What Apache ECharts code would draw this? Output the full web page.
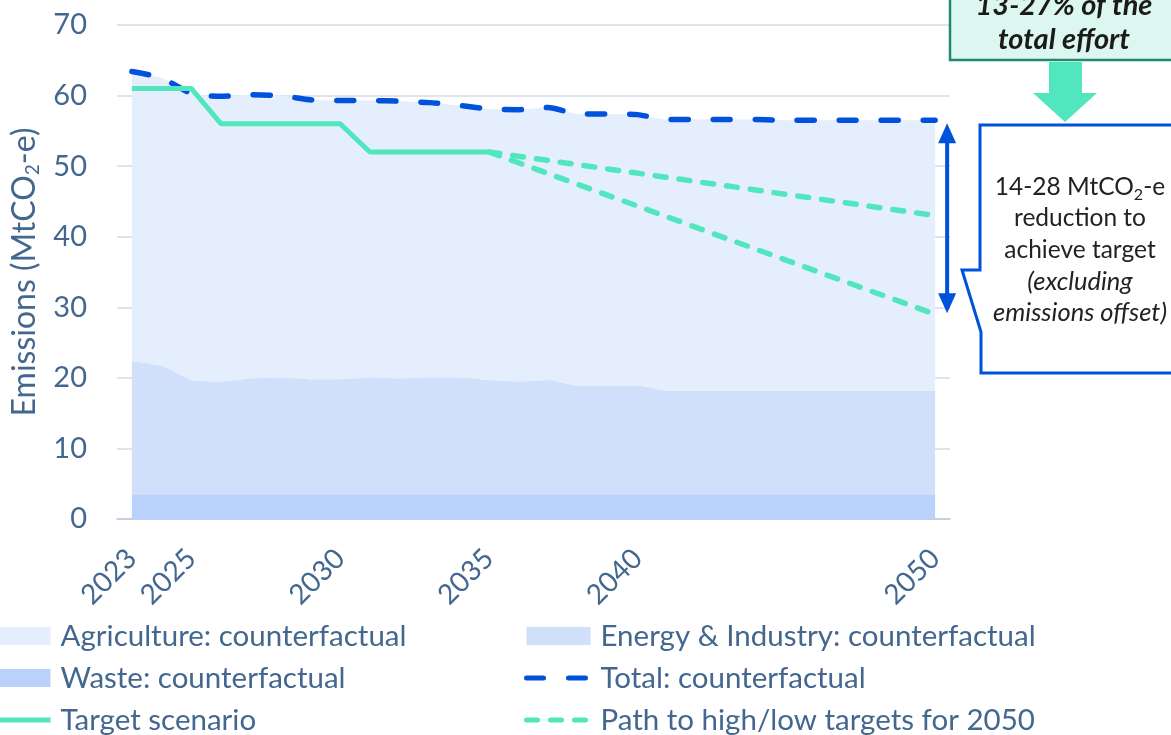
<!DOCTYPE html>
<html>
<head>
<meta charset="utf-8">
<script src="https://cdn.jsdelivr.net/npm/echarts@6/dist/echarts.min.js"></script>
<style>
  html, body { margin: 0; padding: 0; background: #fff; }
  #main { width: 1171px; height: 735px; }
</style>
</head>
<body>
<div id="main"></div>
<script>
// years on the x axis
const years = ['2023', '2024', '2025', '2026', '2027', '2028', '2029', '2030', '2031', '2032',
  '2033', '2034', '2035', '2036', '2037', '2038', '2039', '2040', '2041', '2042',
  '2043', '2044', '2045', '2046', '2047', '2048', '2049', '2050'];
const shownYears = ['2023', '2025', '2030', '2035', '2040', '2050'];

// stacked counterfactual areas (MtCO2-e)
const waste = [3.5, 3.5, 3.5, 3.5, 3.5, 3.5, 3.5, 3.5, 3.5, 3.5,
  3.5, 3.5, 3.5, 3.5, 3.5, 3.5, 3.5, 3.5, 3.5, 3.5,
  3.5, 3.5, 3.5, 3.5, 3.5, 3.5, 3.5, 3.5];
const energy = [18.9, 18.2, 16.2, 16.0, 16.4, 16.5, 16.3, 16.3, 16.5, 16.4,
  16.5, 16.5, 16.2, 16.0, 16.2, 15.4, 15.4, 15.4, 14.7, 14.7,
  14.7, 14.7, 14.7, 14.7, 14.7, 14.7, 14.7, 14.7];
const agriculture = [40.9, 40.8, 40.6, 40.4, 40.2, 40.0, 39.6, 39.5, 39.3, 39.3,
  39.0, 38.6, 38.4, 38.5, 38.6, 38.5, 38.5, 38.4, 38.4, 38.4,
  38.4, 38.4, 38.3, 38.3, 38.3, 38.3, 38.3, 38.3];

// lines
const total = [63.4, 62.5, 60.3, 59.9, 60.1, 60.0, 59.4, 59.3, 59.3, 59.2,
  59.0, 58.6, 58.1, 58.0, 58.3, 57.4, 57.4, 57.3, 56.6, 56.6,
  56.6, 56.6, 56.5, 56.5, 56.5, 56.5, 56.5, 56.5];
const target = [61, 61, 61, 56, 56, 56, 56, 56, 52, 52, 52, 52, 52];
const pathHigh = [null, null, null, null, null, null, null, null, null, null,
  null, null, 52, null, null, null, null, null, null, null,
  null, null, null, null, null, null, null, 43];
const pathLow = [null, null, null, null, null, null, null, null, null, null,
  null, null, 52, null, null, null, null, null, null, null,
  null, null, null, null, null, null, null, 29];

const FONT = 'Lato';
const TXT = '#44678f';
const BLUE = '#0052dc';
const GREEN = '#52e6bf';

const chart = echarts.init(document.getElementById('main'));

function area(name, data, color) {
  return {
    name: name, type: 'line', stack: 'cf', data: data, color: color,
    symbol: 'none', smooth: 0.2, lineStyle: { width: 0 },
    areaStyle: { color: color, opacity: 1 }, silent: true, z: 1
  };
}

const legendText = { fontFamily: FONT, fontSize: 29.5, color: TXT, padding: [0, 0, 0, 5] };
// line entries: no symbol in the icon, thick stroke
const lineItem = (name) => ({ name: name, itemStyle: { opacity: 0 }, lineStyle: { width: 5 } });

const option = {
  animation: false,
  grid: { left: 117, right: 221, top: 25, bottom: 216, containLabel: false, outerBoundsMode: 'none' },
  legend: [
    {
      orient: 'vertical', left: -16, top: 621, padding: 0, height: 120,
      itemWidth: 64, itemHeight: 18, itemGap: 12,
      textStyle: legendText,
      data: [
        { name: 'Agriculture: counterfactual', icon: 'rect' },
        { name: 'Waste: counterfactual', icon: 'rect' },
        lineItem('Target scenario')
      ]
    },
    {
      orient: 'vertical', left: 524, top: 621, padding: 0, height: 120,
      itemWidth: 64, itemHeight: 18, itemGap: 12,
      textStyle: legendText,
      data: [
        { name: 'Energy & Industry: counterfactual', icon: 'rect' },
        lineItem('Total: counterfactual'),
        lineItem('Path to high/low targets for 2050')
      ]
    }
  ],
  xAxis: {
    type: 'category', data: years, boundaryGap: true,
    axisLine: { lineStyle: { color: '#bcc7da', width: 1.5 } },
    axisTick: { show: false },
    axisLabel: {
      interval: (i, v) => shownYears.includes(v),
      rotate: 45, margin: 35, fontFamily: FONT, fontSize: 28, color: TXT
    }
  },
  yAxis: {
    type: 'value', min: 0, max: 70, interval: 10,
    name: 'Emissions (MtCO{sub|2}-e)', nameLocation: 'middle', nameGap: 74,
    nameTextStyle: {
      fontFamily: FONT, fontSize: 32, color: TXT, lineHeight: 36,
      rich: { sub: { fontFamily: FONT, fontSize: 19, color: TXT, verticalAlign: 'bottom', lineHeight: 19 } }
    },
    axisLine: { show: false }, axisTick: { show: false },
    axisLabel: { margin: 30, fontFamily: FONT, fontSize: 29, color: TXT },
    splitLine: { lineStyle: { color: '#d3dbe9', width: 1.5 } }
  },
  series: [
    area('Waste: counterfactual', waste, '#bad2fb'),
    area('Energy & Industry: counterfactual', energy, '#d0e0fb'),
    area('Agriculture: counterfactual', agriculture, '#e4eefd'),
    {
      name: 'Total: counterfactual', type: 'line', data: total, color: BLUE,
      symbol: 'none', smooth: 0.2, z: 5,
      lineStyle: { color: BLUE, width: 5.5, type: [17, 25], cap: 'round' }
    },
    {
      name: 'Path to high/low targets for 2050', type: 'line', data: pathHigh, color: GREEN,
      symbol: 'none', connectNulls: true, z: 4,
      lineStyle: { color: GREEN, width: 5.5, type: [11, 13], cap: 'round' }
    },
    {
      name: 'Path to high/low targets for 2050', type: 'line', data: pathLow, color: GREEN,
      symbol: 'none', connectNulls: true, z: 4,
      lineStyle: { color: GREEN, width: 5.5, type: [11, 13], cap: 'round' }
    },
    {
      name: 'Target scenario', type: 'line', data: target, color: GREEN,
      symbol: 'none', z: 6,
      lineStyle: { color: GREEN, width: 5 }
    }
  ]
};

chart.setOption(option);

// annotations on the right: reduction arrow, callout and the top note
const ax = chart.convertToPixel({ xAxisIndex: 0 }, '2050') + 12;
const yTop = chart.convertToPixel({ yAxisIndex: 0 }, total[total.length - 1]) + 3;
const yBot = chart.convertToPixel({ yAxisIndex: 0 }, pathLow[pathLow.length - 1]) - 1;

chart.setOption({
  graphic: [
    { type: 'line', shape: { x1: ax, y1: yTop + 16, x2: ax, y2: yBot - 16 },
      style: { stroke: BLUE, lineWidth: 4 }, z: 10 },
    { type: 'polygon', shape: { points: [[ax, yTop], [ax - 9, yTop + 20], [ax + 9, yTop + 20]] },
      style: { fill: BLUE }, z: 10 },
    { type: 'polygon', shape: { points: [[ax, yBot], [ax - 9, yBot - 20], [ax + 9, yBot - 20]] },
      style: { fill: BLUE }, z: 10 },
    { type: 'polygon',
      shape: { points: [[980, 125], [1180, 125], [1180, 373], [981, 373], [981, 332], [962, 270], [980, 270]] },
      style: { fill: '#fff', stroke: BLUE, lineWidth: 3 }, z: 10 },
    { type: 'text', x: 1080, y: 250, z: 11,
      style: {
        text: '{n|14-28 MtCO}{s|2}{n|-e}\n{n|reduction to}\n{n|achieve target}\n{i|(excluding}\n{i|emissions offset)}',
        align: 'center', verticalAlign: 'middle', fill: '#222',
        rich: {
          n: { fontFamily: FONT, fontSize: 24.5, lineHeight: 31.5, fill: '#222' },
          i: { fontFamily: FONT, fontSize: 25.5, lineHeight: 31.5, fontStyle: 'italic', fill: '#222' },
          s: { fontFamily: FONT, fontSize: 16, lineHeight: 16, verticalAlign: 'bottom', fill: '#222' }
        }
      } },
    { type: 'rect', shape: { x: 950, y: -40, width: 240, height: 100 },
      style: { fill: '#dcf7ef', stroke: '#1f8b6c', lineWidth: 2.5 }, z: 10 },
    { type: 'text', x: 1064, y: 23, z: 11,
      style: {
        text: '13-27% of the\ntotal effort', align: 'center', verticalAlign: 'middle',
        fontFamily: FONT, fontSize: 29, fontWeight: 'bold', fontStyle: 'italic',
        lineHeight: 34, fill: '#1b1b1b'
      } },
    { type: 'polygon',
      shape: { points: [[1049, 62], [1082, 62], [1082, 93], [1097, 93], [1065, 122], [1033, 93], [1049, 93]] },
      style: { fill: GREEN }, z: 10 }
  ]
});
</script>
</body>
</html>
